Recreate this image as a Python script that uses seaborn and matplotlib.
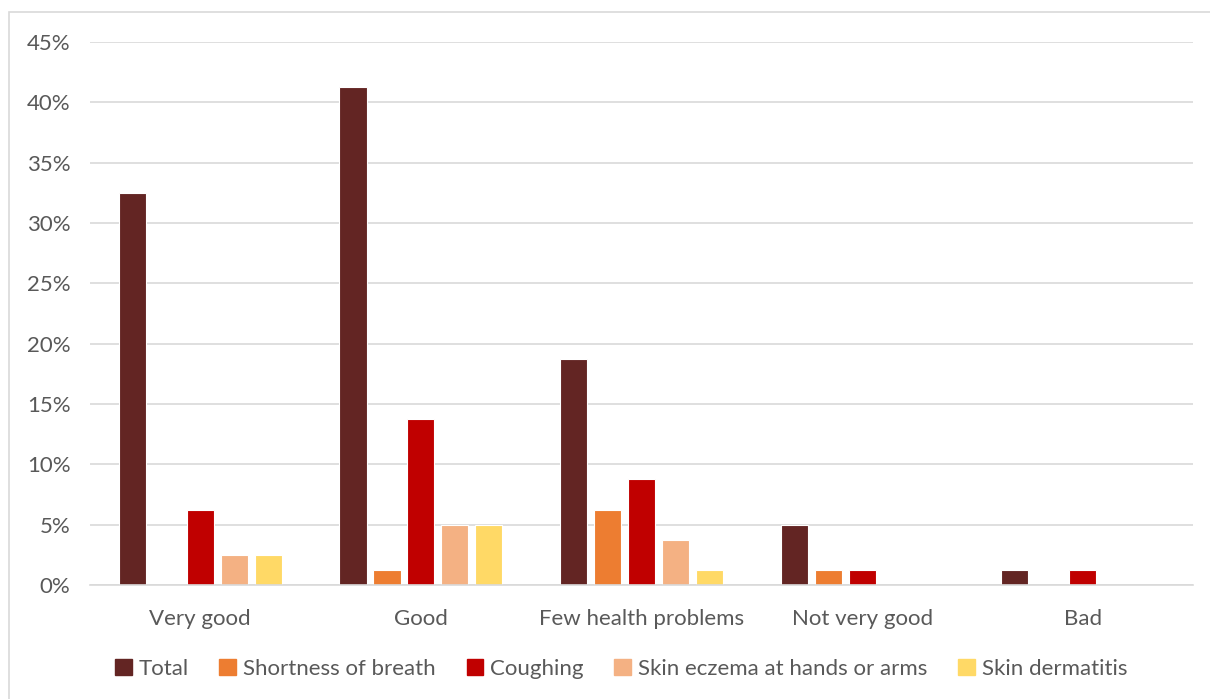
import matplotlib
matplotlib.use("Agg")
import matplotlib.pyplot as plt
from matplotlib.patches import Rectangle
from matplotlib.ticker import PercentFormatter
import pandas as pd
import seaborn as sns

categories = ["Very good", "Good", "Few health problems", "Not very good", "Bad"]
series = ["Total", "Shortness of breath", "Coughing",
          "Skin eczema at hands or arms", "Skin dermatitis"]
total = [32.5, 41.25, 18.75, 5.0, 1.25]
shortness = [0.0, 1.25, 6.25, 1.25, 0.0]
coughing = [6.25, 13.75, 8.75, 1.25, 1.25]
eczema = [2.5, 5.0, 3.75, 0.0, 0.0]
dermatitis = [2.5, 5.0, 1.25, 0.0, 0.0]
colors = ["#632523", "#ED7D31", "#C00000", "#F4B183", "#FFD966"]

values = [total, shortness, coughing, eczema, dermatitis]
df = pd.DataFrame([
    {"category": c, "series": s, "value": v}
    for s, vals in zip(series, values)
    for c, v in zip(categories, vals)
])

sns.set_theme(style="white")
plt.rcParams["font.family"] = ["Lato", "DejaVu Sans"]
text_color = "#595959"

fig = plt.figure(figsize=(12.10, 6.99), dpi=100)
ax = fig.add_axes([90 / 1210, 1 - 585 / 699, (1193 - 90) / 1210, (585 - 42) / 699])

sns.barplot(data=df, x="category", y="value", hue="series",
            hue_order=series, order=categories, palette=colors,
            saturation=1, width=0.77, gap=0.2, ax=ax, legend=False,
            edgecolor="white", linewidth=0.8)

ax.set_ylim(0, 45)
ax.set_xlim(-0.5, 4.5)
ax.set_yticks(range(0, 46, 5))
ax.yaxis.set_major_formatter(PercentFormatter(decimals=0))
ax.grid(axis="y", color="#D9D9D9", linewidth=1.2)
ax.set_axisbelow(True)
for side in ["top", "right", "left"]:
    ax.spines[side].set_visible(False)
ax.spines["bottom"].set_color("#D9D9D9")
ax.spines["bottom"].set_linewidth(1.2)
ax.set_xlabel("")
ax.set_ylabel("")
ax.tick_params(axis="y", length=0, pad=14, labelsize=16, labelcolor=text_color)
ax.tick_params(axis="x", length=0, pad=17, labelsize=16, labelcolor=text_color)

handles = [Rectangle((0, 0), 1, 1, color=c) for c in colors]
fig.legend(handles, series, loc="center", bbox_to_anchor=(621 / 1210, 1 - 669 / 699),
           ncol=5, frameon=False, fontsize=16, labelcolor=text_color,
           handlelength=0.75, handleheight=0.75, handletextpad=0.3,
           columnspacing=1.4)

fig.patches.append(Rectangle((9 / 1210, -0.1), 1.2, 1 - 12 / 699 + 0.1,
                             transform=fig.transFigure, fill=False,
                             edgecolor="#D9D9D9", linewidth=1.2))

fig.savefig("out.png", dpi=100)
